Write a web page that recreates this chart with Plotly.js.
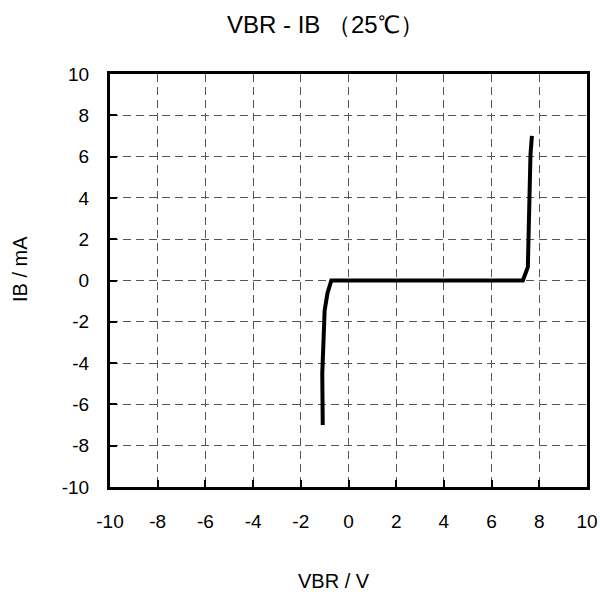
<!DOCTYPE html>
<html>
<head>
<meta charset="utf-8">
<script src="https://cdn.plot.ly/plotly-3.0.1.min.js"></script>
<style>html,body{margin:0;padding:0;background:#fff;}#chart{width:600px;height:599px;}</style>
</head>
<body>
<div id="chart"></div>
<script>
const vbr = [-1.08, -1.1, -1.0, -0.88, -0.72, 7.31, 7.52, 7.56, 7.63, 7.69];
const ib  = [-7.0, -4.5, -1.45, -0.6, 0.0, 0.0, 0.65, 3.55, 6.1, 7.0];
const tickVals = [-10, -8, -6, -4, -2, 0, 2, 4, 6, 8, 10];
const tickText = tickVals.map(String);
const chartTitle = 'VBR - IB （25℃）';
const xTitle = 'VBR / V';
const yTitle = 'IB / mA';

const font = {family: 'Liberation Sans, Arial, sans-serif', color: '#000'};
const W = 600, H = 599;

const axisBase = {
  showline: true, mirror: true, linecolor: '#000', linewidth: 3,
  showgrid: true, gridcolor: '#555', griddash: '8px,5px', gridwidth: 1,
  zeroline: false,
  ticks: 'inside', ticklen: 7, tickwidth: 2, tickcolor: '#000',
  tickmode: 'array', tickvals: tickVals, ticktext: tickText,
  range: [-10, 10],
  tickfont: Object.assign({size: 19}, font)
};

Plotly.newPlot('chart', [{
  x: vbr, y: ib, type: 'scatter', mode: 'lines',
  line: {color: '#000', width: 4}
}], {
  width: W, height: H,
  margin: {l: 110, r: 13, t: 74, b: 112},
  paper_bgcolor: '#fff', plot_bgcolor: '#fff',
  showlegend: false,
  xaxis: Object.assign({}, axisBase, {ticklabelstandoff: 15}),
  yaxis: Object.assign({}, axisBase, {ticklabelstandoff: 14}),
  annotations: [
    {text: chartTitle, xref: 'paper', yref: 'paper', x: (325 - 110) / 477, y: 1 + (74 - 24) / 413,
     xanchor: 'center', yanchor: 'middle', showarrow: false, font: Object.assign({size: 24}, font)},
    {text: xTitle, xref: 'paper', yref: 'paper', x: (334 - 110) / 477, y: -(581 - 487) / 413,
     xanchor: 'center', yanchor: 'middle', showarrow: false, font: Object.assign({size: 20}, font)},
    {text: yTitle, xref: 'paper', yref: 'paper', x: -(110 - 20) / 477, y: (487 - 269) / 413,
     xanchor: 'center', yanchor: 'middle', showarrow: false, textangle: -90, font: Object.assign({size: 20}, font)}
  ]
}, {displayModeBar: false, staticPlot: true});
</script>
</body>
</html>
